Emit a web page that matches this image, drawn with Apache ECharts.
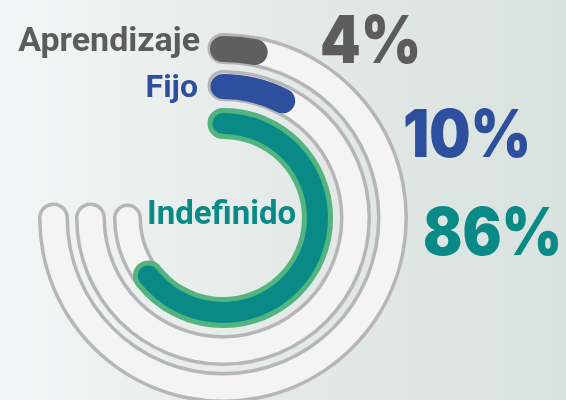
<!DOCTYPE html>
<html>
<head>
<meta charset="utf-8">
<script src="https://cdn.jsdelivr.net/npm/echarts@6/dist/echarts.min.js"></script>
<style>
  html, body { margin: 0; padding: 0; }
  #main { width: 566px; height: 400px; }
</style>
</head>
<body>
<div id="main"></div>
<script>
var categories = ['Aprendizaje', 'Fijo', 'Indefinido'];
var values = [4, 10, 86];
var maxValue = 100;

var myChart = echarts.init(document.getElementById('main'));

var center = [223, 218];
// outer -> inner ring
var trackRadius = [185, 148, 110];
var trackWidth = [31, 31, 29];
var barColors = ['#5f5f5f', '#2d4f9d', '#0a8a87'];
var textColors = ['#5c5c5c', '#2d4f9d', '#0a8a87'];

function gaugeBase(radius) {
  return {
    type: 'gauge',
    center: center,
    radius: radius,
    startAngle: 90,
    endAngle: -180,
    min: 0,
    max: maxValue,
    silent: true,
    pointer: { show: false },
    anchor: { show: false },
    axisTick: { show: false },
    splitLine: { show: false },
    axisLabel: { show: false },
    title: { show: false },
    detail: { show: false }
  };
}

function track(radius, width, color) {
  var s = gaugeBase(radius);
  s.axisLine = { show: true, roundCap: true, lineStyle: { width: width, color: [[1, color]] } };
  s.progress = { show: false };
  s.data = [{ value: 0 }];
  return s;
}

function bar(radius, width, color, value) {
  var s = gaugeBase(radius);
  s.axisLine = { show: false };
  s.progress = { show: true, roundCap: true, width: width, itemStyle: { color: color } };
  s.data = [{ value: value }];
  return s;
}

var series = [];
for (var i = 0; i < categories.length; i++) {
  series.push(track(trackRadius[i], trackWidth[i], '#b6b6b6'));
  series.push(track(trackRadius[i] - 3.5, trackWidth[i] - 7, '#f4f4f4'));
}
series.push(bar(182, 26, barColors[0], values[0]));
series.push(bar(144, 25, barColors[1], values[1]));
// indefinido: green rim + teal fill
series.push(bar(110, 31, '#52b47f', values[2]));
series.push(bar(105, 21, barColors[2], values[2]));

var pctFont = '900 66px Inter';

function pctText(idx, x, y) {
  return {
    type: 'text', x: x, y: y, scaleX: 0.88,
    style: { text: values[idx] + '%', x: 0, y: 0, textAlign: 'left', textVerticalAlign: 'middle', font: pctFont, fill: textColors[idx] }
  };
}

var graphics = [
  { type: 'text', style: { text: categories[0], x: 200, y: 42, textAlign: 'right', textVerticalAlign: 'middle', font: 'bold 34px Roboto', fill: textColors[0] } },
  { type: 'text', style: { text: categories[1], x: 198, y: 89, textAlign: 'right', textVerticalAlign: 'middle', font: 'bold 32px Roboto', fill: textColors[1] } },
  { type: 'text', style: { text: categories[2], x: 147, y: 216, textAlign: 'left', textVerticalAlign: 'middle', font: 'bold 33px Roboto', fill: textColors[2] } },
  pctText(0, 320, 43),
  pctText(1, 403, 137),
  pctText(2, 423, 235)
];

var option = {
  animation: false,
  backgroundColor: {
    type: 'linear', x: 0, y: 0, x2: 1, y2: 0,
    colorStops: [
      { offset: 0, color: '#f3f6f6' },
      { offset: 0.5, color: '#e4eae8' },
      { offset: 1, color: '#d8e2df' }
    ]
  },
  graphic: graphics,
  series: series
};
myChart.setOption(option);
</script>
</body>
</html>
